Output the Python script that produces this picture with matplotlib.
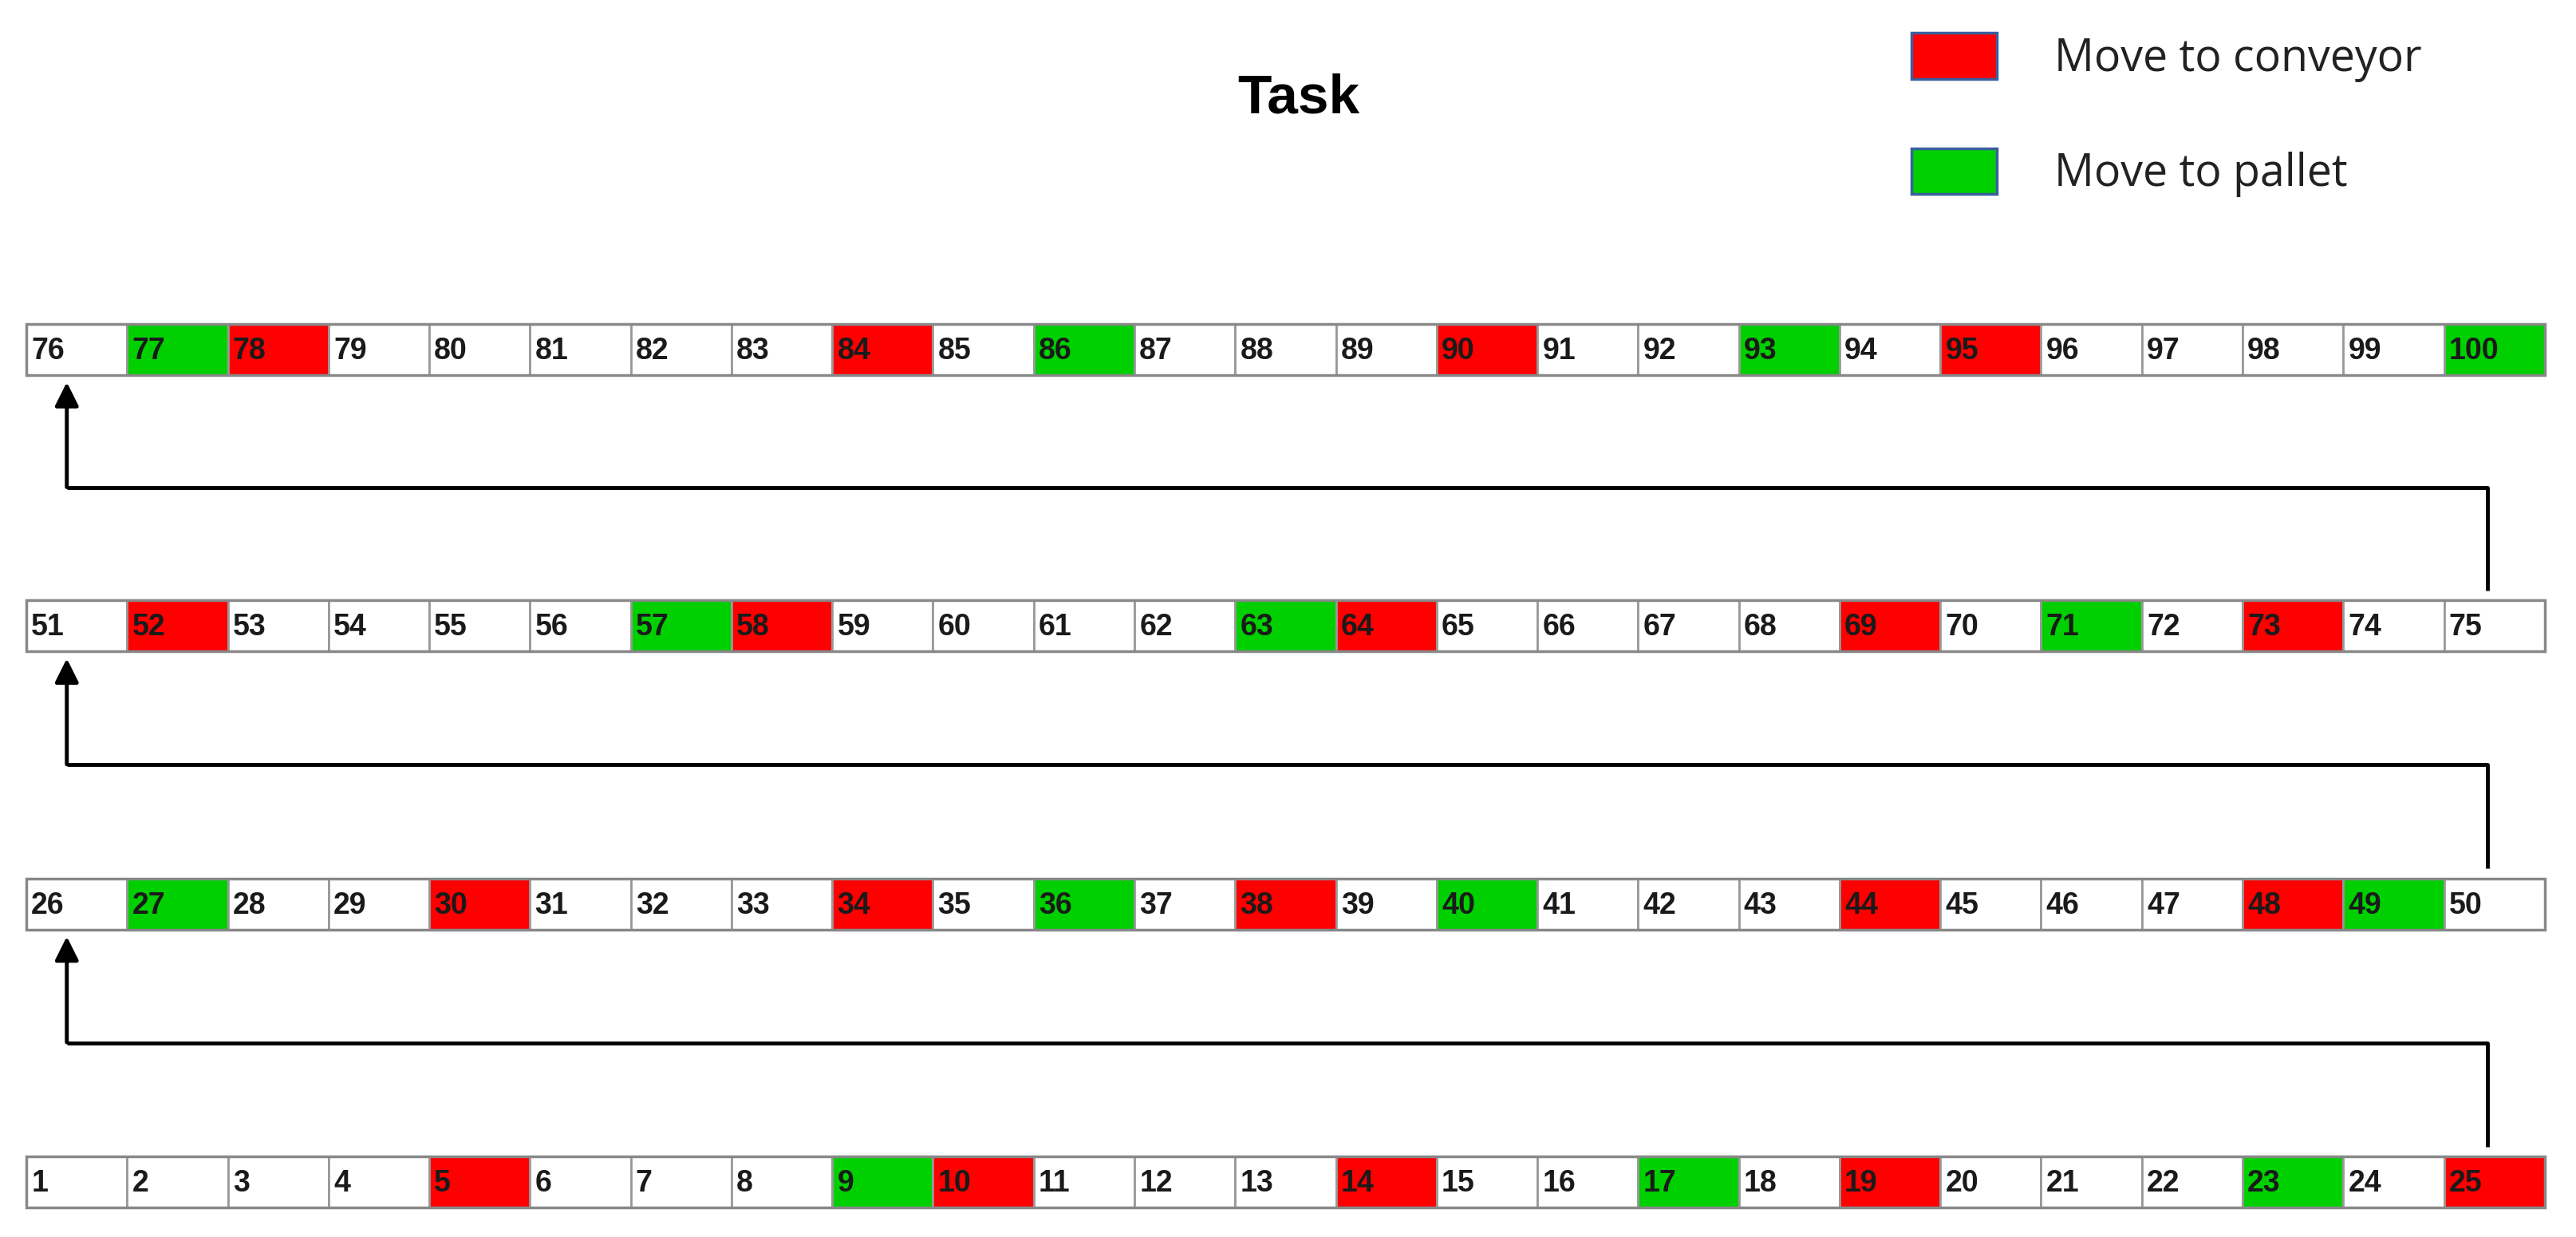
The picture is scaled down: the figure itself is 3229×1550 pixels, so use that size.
import matplotlib
matplotlib.use("Agg")
import matplotlib.pyplot as plt
from matplotlib.patches import Rectangle, FancyArrowPatch

rows = [list(range(1, 26)), list(range(26, 51)), list(range(51, 76)), list(range(76, 101))]
conveyor = [5, 10, 14, 19, 25, 30, 34, 38, 44, 48, 52, 58, 64, 69, 73, 78, 84, 90, 95]
pallet = [9, 17, 23, 27, 36, 40, 49, 57, 63, 71, 77, 86, 93, 100]
title = "Task"
legend_labels = ["Move to conveyor", "Move to pallet"]

RED = "#FF0000"
GREEN = "#00D000"

fig = plt.figure(figsize=(32.3, 15.5), dpi=100)
ax = fig.add_axes([0, 0, 1, 1])
W, H = 1568, 752
ax.set_xlim(0, W)
ax.set_ylim(H, 0)
ax.axis("off")

x0, cw, ch = 16, 61.3, 31
row_y = [703, 534, 365, 197]  # top of each row, bottom row first

for r, cells in enumerate(rows):
    y = row_y[r]
    for i, n in enumerate(cells):
        fc = RED if n in conveyor else GREEN if n in pallet else "white"
        ax.add_patch(Rectangle((x0 + i * cw, y), cw, ch, facecolor=fc,
                               edgecolor="#999999", linewidth=2))
        ax.text(x0 + i * cw + 3, y + ch / 2 + 1, str(n), fontsize=27, fontweight="bold",
                family="Liberation Sans", va="center", ha="left", color="#1a1a1a")
    ax.add_patch(Rectangle((x0, y), cw * 25, ch, fill=False, edgecolor="#888888", linewidth=2.5))

# connectors
for r in range(3):
    ybot = row_y[r]
    ytop = row_y[r + 1] + ch
    ymid = ytop + 0.5 * (ybot - ytop)
    xr = x0 + 24 * cw + cw / 2 - 4
    xl = x0 + cw / 2 - 6
    ax.plot([xr, xr, xl], [ybot - 6, ymid, ymid], color="black", lw=3.5, solid_capstyle="butt")
    ax.add_patch(FancyArrowPatch((xl, ymid + 1), (xl, ytop + 3), arrowstyle="-|>",
                                 mutation_scale=45, color="black", lw=3.5))

ax.text(790, 60, title, fontsize=50, fontweight="bold", family="Liberation Sans",
        ha="center", va="center")

for k, (lab, col) in enumerate(zip(legend_labels, [RED, GREEN])):
    yy = 20 + k * 70
    ax.add_patch(Rectangle((1163, yy), 52, 28, facecolor=col, edgecolor="#3A5FA0", linewidth=2.5))
    ax.text(1250, yy + 16, lab, fontsize=40, family="Open Sans", va="center", ha="left",
            color="#222222")

fig.savefig("out.png", dpi=100)
